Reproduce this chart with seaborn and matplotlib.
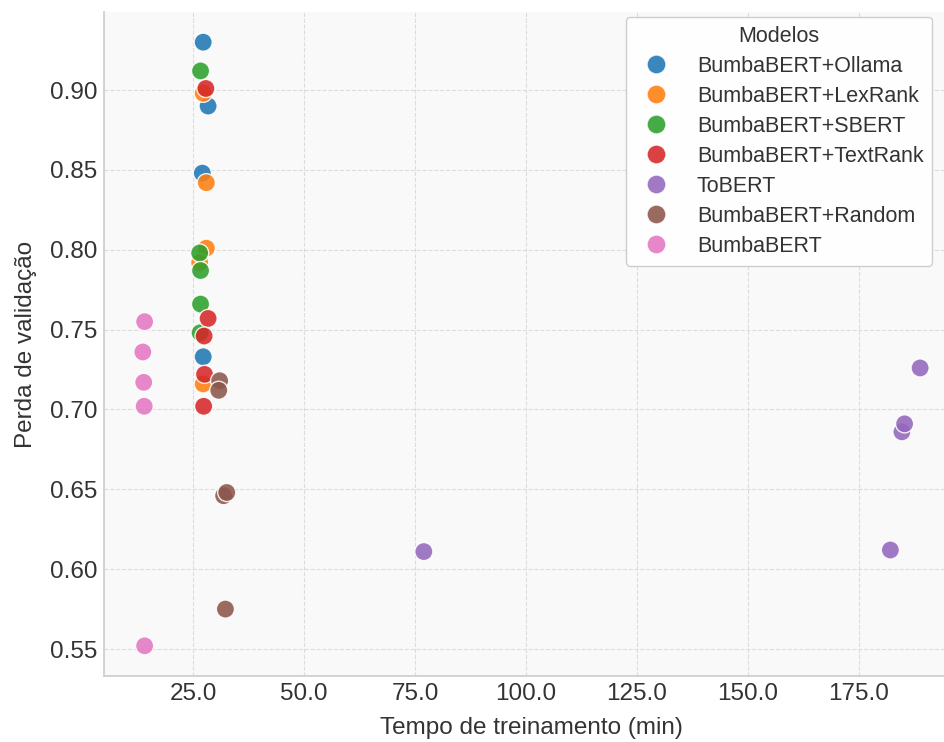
import matplotlib
matplotlib.use("Agg")
import matplotlib.pyplot as plt
import seaborn as sns
import pandas as pd
from matplotlib.ticker import FormatStrFormatter, MultipleLocator

# ---- data ----
models = ["BumbaBERT+Ollama", "BumbaBERT+LexRank", "BumbaBERT+SBERT",
          "BumbaBERT+TextRank", "ToBERT", "BumbaBERT+Random", "BumbaBERT"]

ollama_x = [27.3, 28.4, 27.1, 27.3]
ollama_y = [0.930, 0.890, 0.848, 0.733]
lexrank_x = [27.3, 28.0, 28.0, 26.5, 27.3]
lexrank_y = [0.898, 0.842, 0.801, 0.792, 0.716]
sbert_x = [26.7, 26.5, 26.7, 26.7, 26.6]
sbert_y = [0.912, 0.798, 0.787, 0.766, 0.748]
textrank_x = [27.9, 28.4, 27.5, 27.6, 27.4]
textrank_y = [0.901, 0.757, 0.746, 0.722, 0.702]
tobert_x = [77.0, 182.1, 184.7, 185.3, 188.8]
tobert_y = [0.611, 0.612, 0.686, 0.691, 0.726]
random_x = [31.0, 30.8, 31.9, 32.6, 32.3]
random_y = [0.718, 0.712, 0.646, 0.648, 0.575]
bumba_x = [14.1, 13.7, 13.9, 14.0, 14.1]
bumba_y = [0.755, 0.736, 0.717, 0.702, 0.552]

series_x = [ollama_x, lexrank_x, sbert_x, textrank_x, tobert_x, random_x, bumba_x]
series_y = [ollama_y, lexrank_y, sbert_y, textrank_y, tobert_y, random_y, bumba_y]

rows = []
for m, xs, ys in zip(models, series_x, series_y):
    for xv, yv in zip(xs, ys):
        rows.append({"Modelo": m, "tempo": xv, "perda": yv})
df = pd.DataFrame(rows)

# ---- style ----
sns.set_theme(style="whitegrid")
plt.rcParams["font.family"] = ["Liberation Sans", "DejaVu Sans"]
plt.rcParams["axes.facecolor"] = "#f9f9f9"
plt.rcParams["axes.edgecolor"] = "#cfcfcf"

fig = plt.figure(figsize=(9.44, 7.42), dpi=100)
ax = fig.add_axes([104/944, 66/742, 855/944, 664/742])

palette = sns.color_palette("tab10", 7)
sns.scatterplot(data=df, x="tempo", y="perda", hue="Modelo", hue_order=models,
                palette=palette, s=170, alpha=0.88, edgecolor="white",
                linewidth=1.0, ax=ax, zorder=3)

ax.grid(True, linestyle="--", color="#dcdcdc", linewidth=0.8)
ax.set_axisbelow(True)
for side in ["top", "right"]:
    ax.spines[side].set_visible(False)
for side in ["left", "bottom"]:
    ax.spines[side].set_color("#cccccc")
    ax.spines[side].set_linewidth(1.2)

ax.xaxis.set_major_locator(MultipleLocator(25))
ax.xaxis.set_major_formatter(FormatStrFormatter("%.1f"))
ax.yaxis.set_major_locator(MultipleLocator(0.05))
ax.yaxis.set_major_formatter(FormatStrFormatter("%.2f"))
ax.set_xlim(4.95, 197.56)
ax.set_ylim(0.5331, 0.9489)
ax.tick_params(axis="both", labelsize=17.5, colors="#333333", length=0, pad=5)

ax.set_xlabel("Tempo de treinamento (min)", fontsize=17.5, color="#333333", labelpad=9)
ax.set_ylabel("Perda de validação", fontsize=17.5, color="#333333", labelpad=9)

leg = ax.legend(title="Modelos", loc="upper right",
                bbox_to_anchor=(932/944, 1 - 17/742), bbox_transform=fig.transFigure,
                borderaxespad=0, fontsize=15.5, title_fontsize=15.5,
                frameon=True, markerscale=1.05, handletextpad=0.9,
                labelspacing=0.42, borderpad=0.4)
leg.get_frame().set_edgecolor("#cccccc")
leg.get_frame().set_facecolor("white")
leg.get_frame().set_alpha(0.95)
for t in leg.get_texts():
    t.set_color("#333333")
leg.get_title().set_color("#333333")

fig.savefig("out.png", dpi=100, facecolor="white")
